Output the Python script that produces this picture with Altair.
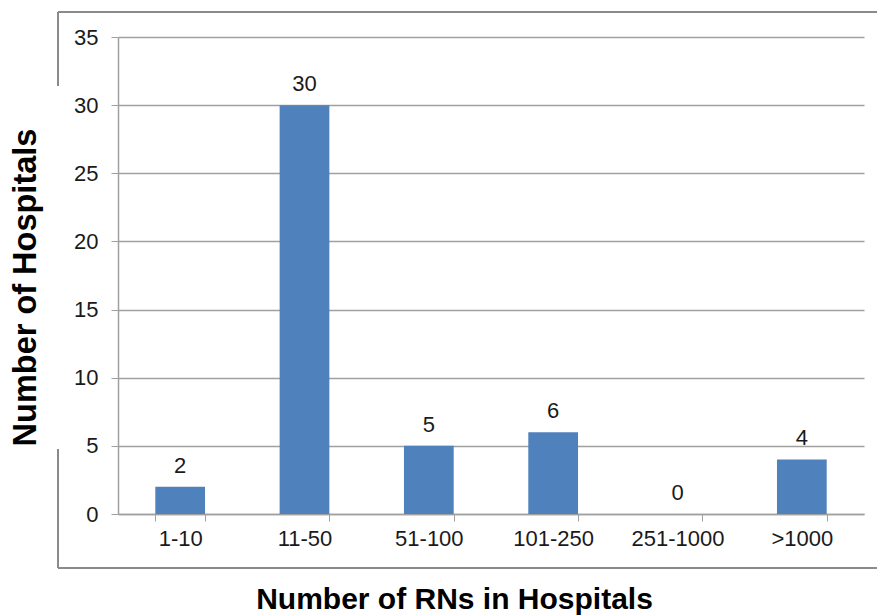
import altair as alt
import pandas as pd

categories = ["1-10", "11-50", "51-100", "101-250", "251-1000", ">1000"]
hospitals = [2, 30, 5, 6, 0, 4]
y_ticks = [0, 5, 10, 15, 20, 25, 30, 35]

df = pd.DataFrame({"cat": categories, "n": hospitals})
FONT = "Liberation Sans"
GRAY = "#a0a0a0"
FRAME = "#8a8a8a"

x_enc = alt.X(
    "cat:N",
    sort=categories,
    scale=alt.Scale(paddingInner=0.6, paddingOuter=0.3),
    axis=alt.Axis(
        title="Number of RNs in Hospitals",
        labelAngle=0,
        labelFont=FONT,
        labelFontSize=22,
        labelColor="#1a1a1a",
        labelPadding=7,
        tickBand="extent",
        tickSize=7,
        tickColor=GRAY,
        domainColor=GRAY,
        domainWidth=1.5,
        titleFont=FONT,
        titleFontSize=30,
        titleFontWeight="bold",
        titleColor="#000000",
        titleX=336,
        titleY=94,
        titleBaseline="alphabetic",
        titleAlign="center",
        grid=False,
    ),
)
y_enc = alt.Y(
    "n:Q",
    scale=alt.Scale(domain=[0, 35], nice=False),
    axis=alt.Axis(
        title="Number of Hospitals",
        values=y_ticks,
        labelFont=FONT,
        labelFontSize=22,
        labelColor="#1a1a1a",
        labelPadding=13,
        tickSize=7,
        tickColor=GRAY,
        domainColor=GRAY,
        domainWidth=1.5,
        gridColor=GRAY,
        gridWidth=1.5,
        titleFont=FONT,
        titleFontSize=32.5,
        titleFontWeight="bold",
        titleColor="#000000",
        titleX=-83,
        titleY=250,
        titleBaseline="alphabetic",
        titleAlign="center",
        titleAngle=270,
    ),
)

base = alt.Chart(df)
bars = base.mark_bar(color="#4F81BD").encode(x=x_enc, y=y_enc)
labels = base.mark_text(
    font=FONT, fontSize=22, color="#1a1a1a", baseline="alphabetic", dy=-14
).encode(x=alt.X("cat:N", sort=categories), y="n:Q", text="n:Q")

one = pd.DataFrame({"k": [0]})
frame_top = alt.Chart(one).mark_rule(color=FRAME, strokeWidth=2).encode(
    x=alt.value(-60), x2=alt.value(770), y=alt.value(-25)
)
frame_bottom = alt.Chart(one).mark_rule(color=FRAME, strokeWidth=2).encode(
    x=alt.value(-60), x2=alt.value(770), y=alt.value(531)
)
frame_left1 = alt.Chart(one).mark_rule(color=FRAME, strokeWidth=2).encode(
    x=alt.value(-60), y=alt.value(-25), y2=alt.value(49)
)
frame_left2 = alt.Chart(one).mark_rule(color=FRAME, strokeWidth=2).encode(
    x=alt.value(-60), y=alt.value(412), y2=alt.value(531)
)

chart = (
    alt.layer(bars, labels, frame_top, frame_bottom, frame_left1, frame_left2)
    .properties(
        width=746,
        height=477,
        autosize=alt.AutoSizeParams(type="none"),
        padding={"left": 118, "top": 37, "right": 13, "bottom": 101},
        background="white",
    )
    .configure_view(stroke=None)
)

chart.save("out.html", embed_options={"renderer": "svg", "actions": False})
